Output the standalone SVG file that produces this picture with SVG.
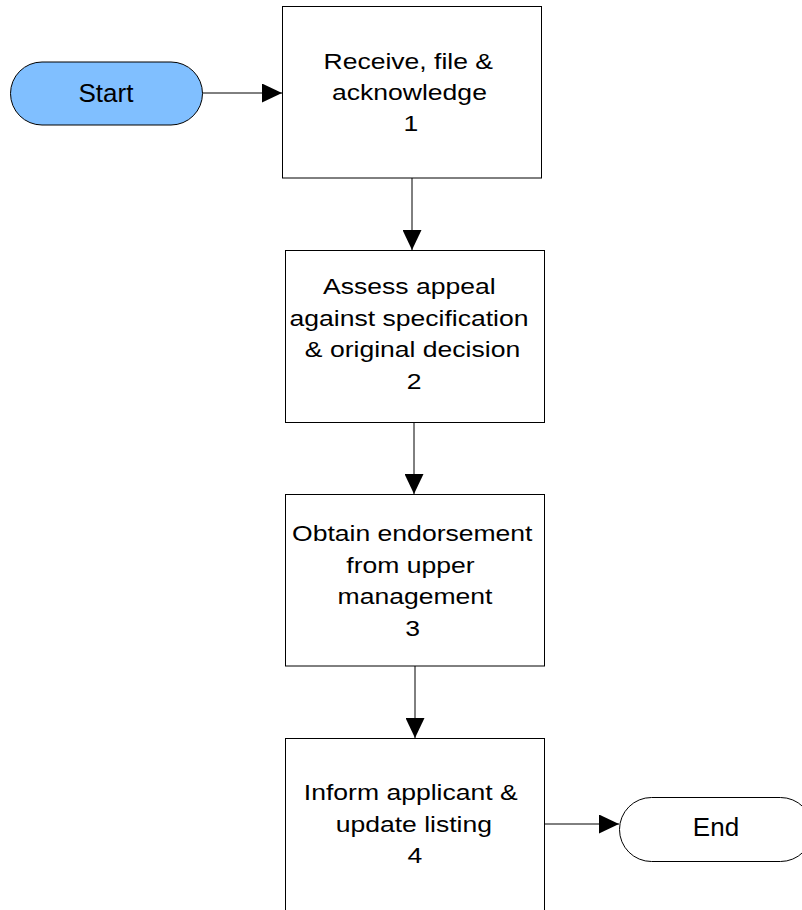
<svg xmlns="http://www.w3.org/2000/svg" width="802" height="910" viewBox="0 0 802 910">
<style>
.box{fill:#fff;stroke:#000;stroke-width:1}
.term{stroke:#000;stroke-width:1}
.lbl{font-family:"Liberation Sans",Arial,sans-serif;font-size:22.5px;fill:#000;text-anchor:middle}
.tl{font-family:"Liberation Sans",Arial,sans-serif;font-size:26px;fill:#000;text-anchor:middle}
.con{stroke:#000;stroke-width:1;fill:none;marker-end:url(#ah)}
</style>
<defs>
<marker id="ah" markerUnits="userSpaceOnUse" markerWidth="20" markerHeight="19" refX="20" refY="9.5" orient="auto" viewBox="0 0 20 19">
<path d="M0,0 L20,9.5 L0,19 z" fill="#000"/>
</marker>
</defs>
<rect width="802" height="910" fill="#fff"/>
<g id="start">
<rect class="term" x="10.5" y="62" width="192" height="63" rx="31.5" fill="#80bfff"/>
<text class="tl" x="106" y="101.5">Start</text>
</g>
<g id="n1">
<rect class="box" x="282.5" y="6.5" width="259" height="171.5"/>
<g transform="scale(1.18,1)">
<text class="lbl" x="346" y="69.3">Receive, file &amp;</text>
<text class="lbl" x="347" y="100.3">acknowledge</text>
<text class="lbl" x="348.3" y="131.5">1</text>
</g>
</g>
<g id="n2">
<rect class="box" x="285.5" y="250.5" width="259" height="172"/>
<g transform="scale(1.18,1)">
<text class="lbl" x="346.9" y="294">Assess appeal</text>
<text class="lbl" x="346.6" y="326">against specification</text>
<text class="lbl" x="349.6" y="357.5">&amp; original decision</text>
<text class="lbl" x="351" y="389.3">2</text>
</g>
</g>
<g id="n3">
<rect class="box" x="285.5" y="494.5" width="259" height="171.5"/>
<g transform="scale(1.18,1)">
<text class="lbl" x="349.4" y="541">Obtain endorsement</text>
<text class="lbl" x="347.9" y="572.7">from upper</text>
<text class="lbl" x="351.7" y="604.3">management</text>
<text class="lbl" x="349.6" y="636">3</text>
</g>
</g>
<g id="n4">
<rect class="box" x="285.5" y="738.5" width="259" height="180"/>
<g transform="scale(1.18,1)">
<text class="lbl" x="348.1" y="800">Inform applicant &amp;</text>
<text class="lbl" x="350.7" y="831.7">update listing</text>
<text class="lbl" x="351.7" y="863.3">4</text>
</g>
</g>
<g id="end">
<rect class="term" x="619.5" y="797.5" width="193" height="64" rx="32" fill="#fff"/>
<text class="tl" x="716" y="836">End</text>
</g>
<g id="connectors">
<line class="con" x1="202.5" y1="93" x2="282" y2="93"/>
<line class="con" x1="412" y1="178" x2="412" y2="250"/>
<line class="con" x1="414" y1="423" x2="414" y2="494"/>
<line class="con" x1="415" y1="666" x2="415" y2="738"/>
<line class="con" x1="545" y1="824" x2="619" y2="824"/>
</g>
</svg>
